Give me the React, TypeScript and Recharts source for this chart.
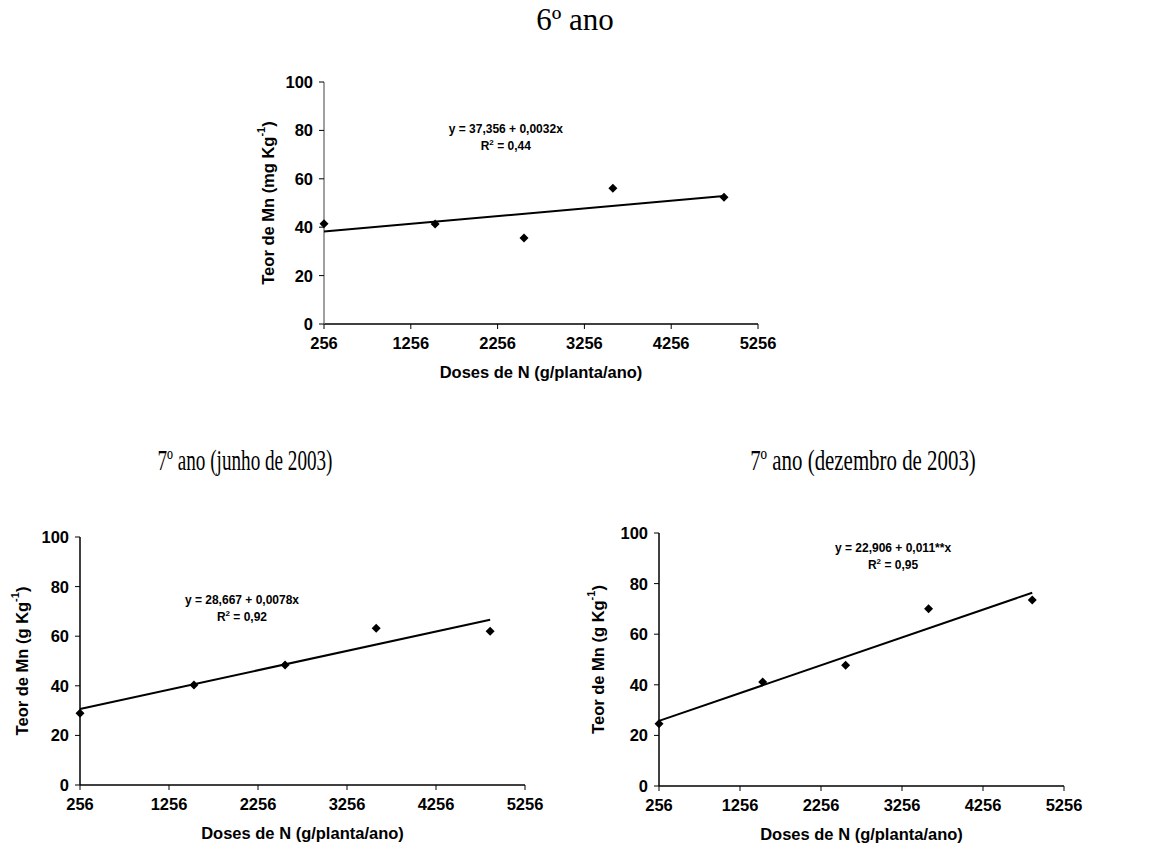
import { ScatterChart, Scatter, XAxis, YAxis, ReferenceDot, Text } from 'recharts';

// doses de N (g/planta/ano) e teores de Mn observados
const doses = [256, 1536, 2560, 3584, 4864];
const teor6Ano = [41.4, 41.3, 35.5, 56.1, 52.4];
const teorJunho = [28.9, 40.3, 48.4, 63.2, 62.0];
const teorDezembro = [24.6, 41.1, 47.7, 70.1, 73.5];

// coeficientes das retas ajustadas (y = a + b x)
const intercepts = [37.356, 28.667, 22.906];
const slopes = [0.0032, 0.0078, 0.011];

const xTicks = [256, 1256, 2256, 3256, 4256, 5256];
const yTicks = [0, 20, 40, 60, 80, 100];

const SANS = '"Liberation Sans", Arial, sans-serif';
const SERIF = '"Liberation Serif", "Times New Roman", serif';
const FONT_SIZE = 16.5;

const Diamond = (props: any) => {
  const { cx, cy } = props;
  const r = 4.5;
  return <path d={`M${cx},${cy - r}L${cx + r},${cy}L${cx},${cy + r}L${cx - r},${cy}Z`} fill="#000" />;
};

// tick labels drawn by hand so the font is applied as-is
const XTick = (props: any) => {
  const { x, y, payload } = props;
  return (
    <text x={x} y={y + 6} textAnchor="middle" dominantBaseline="hanging"
      fontFamily={SANS} fontWeight="bold" fontSize={FONT_SIZE} fill="#000">
      {payload.value}
    </text>
  );
};

const YTick = (props: any) => {
  const { x, y, payload } = props;
  return (
    <text x={x - 4} y={y} textAnchor="end" dominantBaseline="central"
      fontFamily={SANS} fontWeight="bold" fontSize={FONT_SIZE} fill="#000">
      {payload.value}
    </text>
  );
};

type PanelProps = {
  left: number;
  top: number;
  width: number;
  height: number;
  axisWidth: number;
  margin: { top: number; right: number; bottom: number };
  values: number[];
  fit: number;
  unit: string;
  eqText: string;
  r2Text: string;
  eqAt: [number, number];
  yAxisColor: string;
  titleOffset: number;
};

function Panel(p: PanelProps) {
  const points = doses.map((d, i) => ({ x: d, y: p.values[i] }));
  const a = intercepts[p.fit];
  const b = slopes[p.fit];
  const line = [doses[0], doses[doses.length - 1]].map(x => ({ x, y: a + b * x }));

  const eqShape = (s: any) => (
    <g fontFamily={SANS} fontWeight="bold" fontSize={12} fill="#000" textAnchor="middle">
      <text x={s.cx} y={s.cy}>{p.eqText}</text>
      <text x={s.cx} y={s.cy + 17}>
        R<tspan dy={-5} fontSize={8}>2</tspan>
        <tspan dy={5}>{` = ${p.r2Text}`}</tspan>
      </text>
    </g>
  );

  const yTitle = (props: any) => {
    const vb = props.viewBox;
    const cx = vb.x + vb.width - p.titleOffset;
    const cy = vb.y + vb.height / 2;
    return (
      <text
        x={cx}
        y={cy}
        transform={`rotate(-90, ${cx}, ${cy})`}
        textAnchor="middle"
        dominantBaseline="central"
        fontFamily={SANS}
        fontWeight="bold"
        fontSize={FONT_SIZE}
        fill="#000"
      >
        {`Teor de Mn (${p.unit} Kg`}
        <tspan dy={-7} fontSize={11}>-1</tspan>
        <tspan dy={7}>)</tspan>
      </text>
    );
  };

  const xTitle = (props: any) => {
    const vb = props.viewBox;
    return (
      <text
        x={vb.x + vb.width / 2}
        y={vb.y + 48}
        textAnchor="middle"
        dominantBaseline="central"
        fontFamily={SANS}
        fontWeight="bold"
        fontSize={FONT_SIZE}
        fill="#000"
      >
        Doses de N (g/planta/ano)
      </text>
    );
  };

  return (
    <div style={{ position: 'absolute', left: p.left, top: p.top }}>
      <ScatterChart
        width={p.width}
        height={p.height}
        margin={{ top: p.margin.top, right: p.margin.right, bottom: p.margin.bottom, left: 0 }}
      >
        <XAxis
          type="number"
          dataKey="x"
          domain={[256, 5256]}
          ticks={xTicks}
          interval={0}
          height={60}
          tickSize={5}
          axisLine={{ stroke: '#000', strokeWidth: 1.5 }}
          tickLine={{ stroke: '#000' }}
          tick={XTick}
          label={{ content: xTitle }}
        />
        <YAxis
          type="number"
          dataKey="y"
          domain={[0, 100]}
          ticks={yTicks}
          interval={0}
          width={p.axisWidth}
          tickSize={5}
          axisLine={{ stroke: p.yAxisColor, strokeWidth: 1.5 }}
          tickLine={{ stroke: '#000' }}
          tick={YTick}
          label={{ content: yTitle }}
        />
        <Scatter
          data={line}
          line={{ stroke: '#000', strokeWidth: 2 }}
          shape={() => null}
          isAnimationActive={false}
        />
        <Scatter data={points} shape={Diamond} isAnimationActive={false} />
        <ReferenceDot x={p.eqAt[0]} y={p.eqAt[1]} r={0} shape={eqShape} />
      </ScatterChart>
    </div>
  );
}

const titleStyle: React.CSSProperties = {
  position: 'absolute',
  fontFamily: SERIF,
  color: '#000',
  whiteSpace: 'nowrap',
  lineHeight: 1,
};

export default function App() {
  return (
    <div style={{ position: 'absolute', left: 0, top: 0, width: 1149, height: 852, background: '#fff' }}>
      <div style={{ ...titleStyle, fontSize: 31, left: 575, top: 4, transform: 'translateX(-50%)' }}>6º ano</div>
      <div style={{ ...titleStyle, fontSize: 29, left: 245, top: 446, transform: 'translateX(-50%) scaleX(0.66)' }}>
        7º ano (junho de 2003)
      </div>
      <div style={{ ...titleStyle, fontSize: 29, left: 863, top: 446, transform: 'translateX(-50%) scaleX(0.72)' }}>
        7º ano (dezembro de 2003)
      </div>

      <Panel
        left={230}
        top={60}
        width={560}
        height={324}
        axisWidth={94}
        margin={{ top: 22, right: 32, bottom: 0 }}
        values={teor6Ano}
        fit={0}
        unit="mg"
        eqText="y = 37,356 + 0,0032x"
        r2Text="0,44"
        eqAt={[2350, 79]}
        yAxisColor="#808080"
        titleOffset={56}
      />
      <Panel
        left={0}
        top={500}
        width={560}
        height={350}
        axisWidth={80}
        margin={{ top: 37, right: 35, bottom: 5 }}
        values={teorJunho}
        fit={1}
        unit="g"
        eqText="y = 28,667 + 0,0078x"
        r2Text="0,92"
        eqAt={[2076, 73]}
        yAxisColor="#000"
        titleOffset={58}
      />
      <Panel
        left={570}
        top={500}
        width={579}
        height={350}
        axisWidth={89}
        margin={{ top: 33, right: 85, bottom: 4 }}
        values={teorDezembro}
        fit={2}
        unit="g"
        eqText="y = 22,906 + 0,011**x"
        r2Text="0,95"
        eqAt={[3145, 92.5]}
        yAxisColor="#000"
        titleOffset={61}
      />
    </div>
  );
}
